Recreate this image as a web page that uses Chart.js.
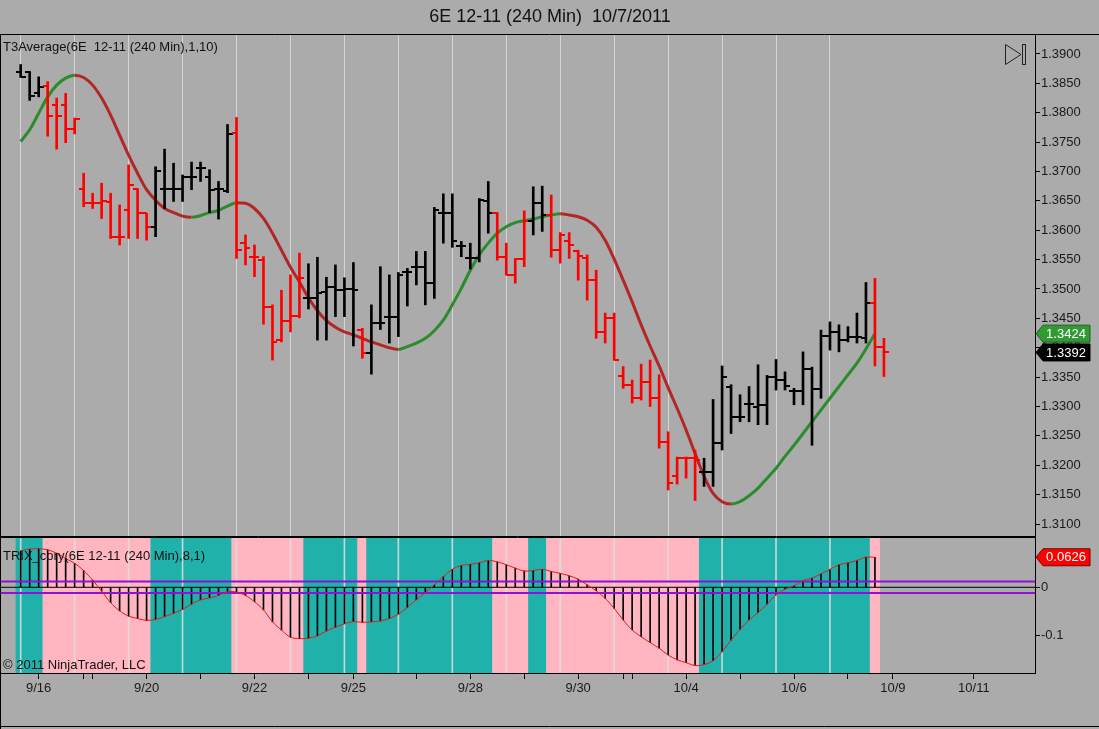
<!DOCTYPE html>
<html>
<head>
<meta charset="utf-8">
<title>6E 12-11 (240 Min) 10/7/2011</title>
<script src="https://cdn.jsdelivr.net/npm/chart.js@4.4.1/dist/chart.umd.min.js"></script>
<style>
  html, body { margin: 0; padding: 0; background: #ababab; }
  #wrap { position: relative; width: 1099px; height: 729px; overflow: hidden; }
  #priceChart { position: absolute; left: 0; top: 0; }
  #trixChart { position: absolute; left: 0; top: 537px; }
</style>
</head>
<body>
<div id="wrap">
  <canvas id="priceChart" width="1099" height="537"></canvas>
  <canvas id="trixChart" width="1099" height="192"></canvas>
</div>
<script>
// 240 min bars, index 0 = first bar on screen
const opens = [1.3870, 1.3869, 1.3834, 1.3846, 1.3813, 1.3813, 1.3772, 1.3670, 1.3646, 1.3646,
  1.3648, 1.3589, 1.3634, 1.3670, 1.3629, 1.3605, 1.3670, 1.3670, 1.3670, 1.3691,
  1.3706, 1.3691, 1.3670, 1.3667, 1.3765, 1.3578, 1.3555, 1.3549, 1.3469, 1.3413,
  1.3446, 1.3454, 1.3484, 1.3485, 1.3495, 1.3504, 1.3498, 1.3500, 1.3430, 1.3391,
  1.3442, 1.3453, 1.3453, 1.3529, 1.3538, 1.3538, 1.3510, 1.3629, 1.3629, 1.3573,
  1.3552, 1.3552, 1.3650, 1.3629, 1.3555, 1.3524, 1.3551, 1.3615, 1.3646, 1.3626,
  1.3566, 1.3581, 1.3565, 1.3553, 1.3515, 1.3426, 1.3450, 1.3352, 1.3337, 1.3314,
  1.3341, 1.3314, 1.3240, 1.3182, 1.3212, 1.3212, 1.3189, 1.3189, 1.3238, 1.3334,
  1.3282, 1.3304, 1.3300, 1.3303, 1.3351, 1.3345, 1.3327, 1.3327, 1.3363, 1.3329,
  1.3420, 1.3427, 1.3413, 1.3418, 1.3416, 1.3476, 1.3402];
const highs = [1.3882, 1.3870, 1.3861, 1.3853, 1.3825, 1.3833, 1.3791, 1.3697, 1.3663, 1.3680,
  1.3663, 1.3643, 1.3711, 1.3671, 1.3629, 1.3708, 1.3738, 1.3714, 1.3694, 1.3716,
  1.3716, 1.3703, 1.3683, 1.3780, 1.3792, 1.3592, 1.3575, 1.3555, 1.3473, 1.3498,
  1.3524, 1.3561, 1.3543, 1.3554, 1.3520, 1.3541, 1.3519, 1.3545, 1.3433, 1.3473,
  1.3538, 1.3524, 1.3528, 1.3535, 1.3564, 1.3564, 1.3639, 1.3662, 1.3662, 1.3581,
  1.3578, 1.3654, 1.3683, 1.3630, 1.3578, 1.3552, 1.3633, 1.3674, 1.3675, 1.3660,
  1.3596, 1.3596, 1.3566, 1.3558, 1.3532, 1.3459, 1.3459, 1.3368, 1.3345, 1.3372,
  1.3379, 1.3354, 1.3257, 1.3214, 1.3214, 1.3226, 1.3212, 1.3312, 1.3369, 1.3337,
  1.3320, 1.3334, 1.3371, 1.3353, 1.3380, 1.3359, 1.3331, 1.3393, 1.3367, 1.3430,
  1.3444, 1.3439, 1.3436, 1.3459, 1.3511, 1.3518, 1.3416];
const lows = [1.3860, 1.3821, 1.3827, 1.3760, 1.3738, 1.3749, 1.3764, 1.3640, 1.3637, 1.3620,
  1.3586, 1.3575, 1.3586, 1.3586, 1.3583, 1.3589, 1.3637, 1.3649, 1.3649, 1.3669,
  1.3683, 1.3630, 1.3619, 1.3664, 1.3552, 1.3541, 1.3521, 1.3440, 1.3379, 1.3410,
  1.3427, 1.3451, 1.3466, 1.3413, 1.3413, 1.3453, 1.3453, 1.3403, 1.3382, 1.3355,
  1.3431, 1.3408, 1.3419, 1.3471, 1.3507, 1.3473, 1.3484, 1.3578, 1.3571, 1.3555,
  1.3534, 1.3546, 1.3595, 1.3549, 1.3524, 1.3510, 1.3538, 1.3592, 1.3598, 1.3554,
  1.3544, 1.3552, 1.3515, 1.3481, 1.3416, 1.3408, 1.3379, 1.3331, 1.3306, 1.3311,
  1.3300, 1.3229, 1.3158, 1.3168, 1.3178, 1.3140, 1.3164, 1.3164, 1.3226, 1.3254,
  1.3274, 1.3274, 1.3269, 1.3269, 1.3328, 1.3328, 1.3303, 1.3303, 1.3234, 1.3314,
  1.3396, 1.3393, 1.3410, 1.3408, 1.3408, 1.3369, 1.3351];
const closes = [1.3861, 1.3829, 1.3844, 1.3794, 1.3794, 1.3772, 1.3790, 1.3646, 1.3646, 1.3649,
  1.3589, 1.3589, 1.3677, 1.3629, 1.3605, 1.3701, 1.3670, 1.3670, 1.3691, 1.3691,
  1.3706, 1.3669, 1.3670, 1.3764, 1.3566, 1.3570, 1.3555, 1.3469, 1.3410, 1.3446,
  1.3454, 1.3518, 1.3484, 1.3493, 1.3504, 1.3498, 1.3500, 1.3498, 1.3391, 1.3442,
  1.3442, 1.3453, 1.3524, 1.3529, 1.3538, 1.3510, 1.3634, 1.3629, 1.3581, 1.3573,
  1.3552, 1.3651, 1.3629, 1.3555, 1.3524, 1.3551, 1.3615, 1.3646, 1.3626, 1.3566,
  1.3592, 1.3575, 1.3556, 1.3515, 1.3426, 1.3450, 1.3380, 1.3337, 1.3314, 1.3341,
  1.3314, 1.3240, 1.3170, 1.3212, 1.3212, 1.3209, 1.3189, 1.3238, 1.3350, 1.3282,
  1.3282, 1.3304, 1.3303, 1.3350, 1.3345, 1.3335, 1.3327, 1.3363, 1.3329, 1.3420,
  1.3427, 1.3413, 1.3418, 1.3418, 1.3476, 1.3402, 1.3392];

// T3Average(1,10) - not yet calculated on the last bar
const t3 = [1.3751, 1.3771, 1.3799, 1.3827, 1.3847, 1.3859, 1.3864, 1.3860, 1.3847, 1.3825,
  1.3796, 1.3762, 1.3728, 1.3697, 1.3669, 1.3651, 1.3637, 1.3630, 1.3624, 1.3622,
  1.3625, 1.3630, 1.3634, 1.3641, 1.3647, 1.3646, 1.3637, 1.3620, 1.3595, 1.3566,
  1.3537, 1.3512, 1.3485, 1.3463, 1.3446, 1.3435, 1.3427, 1.3422, 1.3416, 1.3410,
  1.3405, 1.3400, 1.3397, 1.3402, 1.3408, 1.3416, 1.3429, 1.3447, 1.3473, 1.3501,
  1.3532, 1.3558, 1.3578, 1.3595, 1.3606, 1.3613, 1.3616, 1.3619, 1.3623, 1.3626,
  1.3628, 1.3626, 1.3623, 1.3617, 1.3605, 1.3583, 1.3551, 1.3515, 1.3478, 1.3439,
  1.3403, 1.3369, 1.3332, 1.3297, 1.3260, 1.3220, 1.3181, 1.3152, 1.3138, 1.3134,
  1.3138, 1.3148, 1.3161, 1.3178, 1.3195, 1.3215, 1.3234, 1.3254, 1.3274, 1.3294,
  1.3314, 1.3334, 1.3354, 1.3374, 1.3398, 1.3424];

// TRIX_cory(8,1)
const trix = [0.076, 0.0795, 0.0805, 0.078, 0.071, 0.060, 0.050, 0.035, 0.015, -0.008,
  -0.032, -0.049, -0.060, -0.065, -0.069, -0.067, -0.061, -0.054, -0.046, -0.035,
  -0.026, -0.022, -0.017, -0.009, -0.010, -0.017, -0.030, -0.047, -0.072, -0.089,
  -0.104, -0.107, -0.106, -0.101, -0.091, -0.083, -0.076, -0.0715, -0.073, -0.072,
  -0.070, -0.065, -0.056, -0.042, -0.026, -0.011, 0.005, 0.022, 0.0375, 0.0455,
  0.048, 0.051, 0.056, 0.053, 0.047, 0.040, 0.034, 0.035, 0.0375, 0.033,
  0.029, 0.024, 0.017, 0.005, -0.007, -0.023, -0.044, -0.068, -0.089, -0.103,
  -0.115, -0.127, -0.141, -0.151, -0.157, -0.163, -0.161, -0.153, -0.134, -0.110,
  -0.0875, -0.068, -0.053, -0.035, -0.016, -0.004, 0.003, 0.014, 0.019, 0.028,
  0.0375, 0.047, 0.051, 0.056, 0.0628, 0.0626];
const trixBands = [0.012, -0.012];

// axis ticks
const priceTicks = [1.39, 1.385, 1.38, 1.375, 1.37, 1.365, 1.36, 1.355, 1.35, 1.345,
  1.34, 1.335, 1.33, 1.325, 1.32, 1.315, 1.31];
const trixTicks = [0, -0.1];
const sessionBars = [0, 6, 12, 18, 24, 30, 36, 42, 48, 54, 60, 66, 72, 78, 84, 90];
const dateTickBars = [2, 7, 8, 14, 20, 26, 32, 37, 44, 50, 56, 62, 67, 68, 74, 80, 86, 92, 97, 106];
const dateTickLabels = ['9/16', '', '', '9/20', '', '9/22', '', '9/25', '', '9/28', '', '9/30',
  '', '', '10/4', '', '10/6', '', '10/9', '10/11'];

const X_MIN = -2.19, X_MAX = 112.8;
const P_MIN = 1.30779, P_MAX = 1.3934;
const T_MIN = -0.1785, T_MAX = 0.1048;

const UP = '#000000', DOWN = '#ff0000';
const T3_UP = '#2a8c2a', T3_DOWN = '#b32626';
const TEAL = '#20b2aa', PINK = '#ffb6c1';

Chart.defaults.font.family = '"Liberation Sans", Arial, sans-serif';
Chart.defaults.font.size = 13;
Chart.defaults.color = '#111';

// bar colour follows the TRIX direction
function rising(i) {
  if (i >= trix.length) return false;
  if (i === 0) return true;
  return trix[i] > trix[i - 1];
}

function tickImage(color, side) {
  const c = document.createElement('canvas');
  c.width = 10;
  c.height = 2;
  const g = c.getContext('2d');
  g.fillStyle = color;
  if (side === 'open') g.fillRect(0, 0, 5, 2);
  else g.fillRect(5, 0, 5, 2);
  return c;
}
const openUp = tickImage(UP, 'open'), openDown = tickImage(DOWN, 'open');
const closeUp = tickImage(UP, 'close'), closeDown = tickImage(DOWN, 'close');

function fixY(s) { s.width = 64; s.paddingTop = 0; s.paddingBottom = 0; }

function valueFlag(ctx, x, y, fill, stroke, text) {
  ctx.beginPath();
  ctx.moveTo(x + 1, y);
  ctx.lineTo(x + 8, y - 8.5);
  ctx.lineTo(x + 55, y - 8.5);
  ctx.lineTo(x + 55, y + 8.5);
  ctx.lineTo(x + 8, y + 8.5);
  ctx.closePath();
  ctx.fillStyle = fill;
  ctx.fill();
  ctx.strokeStyle = stroke;
  ctx.lineWidth = 1;
  ctx.stroke();
  ctx.fillStyle = '#fff';
  ctx.font = '13px "Liberation Sans", Arial';
  ctx.textAlign = 'center';
  ctx.textBaseline = 'middle';
  ctx.fillText(text, x + 31, y + 0.5);
}

const priceDecor = {
  id: 'priceDecor',
  afterDraw(chart) {
    const { ctx, chartArea: a } = chart;
    const y = chart.scales.y;
    ctx.save();
    ctx.strokeStyle = '#000';
    ctx.lineWidth = 1;
    ctx.beginPath();
    ctx.moveTo(0, a.top + 0.5); ctx.lineTo(chart.width, a.top + 0.5);
    ctx.moveTo(0.5, a.top); ctx.lineTo(0.5, chart.height);
    ctx.moveTo(0, a.bottom - 0.5); ctx.lineTo(a.right, a.bottom - 0.5);
    ctx.stroke();

    ctx.fillStyle = '#111';
    ctx.font = '13px "Liberation Sans", Arial';
    ctx.textAlign = 'left';
    ctx.textBaseline = 'middle';
    ctx.fillText('T3Average(6E  12-11 (240 Min),1,10)', 3, 47);

    // scroll-to-end button
    ctx.strokeStyle = '#222';
    ctx.beginPath();
    ctx.moveTo(1005.5, 44.5); ctx.lineTo(1021, 54.5); ctx.lineTo(1005.5, 64.5); ctx.closePath();
    ctx.stroke();
    ctx.strokeRect(1022.5, 44.5, 3, 20);

    const lastT3 = t3[t3.length - 1];
    const lastClose = closes[closes.length - 1];
    valueFlag(ctx, a.right, y.getPixelForValue(lastT3), '#339933', '#1f5f1f', lastT3.toFixed(4));
    valueFlag(ctx, a.right, y.getPixelForValue(lastClose), '#000', '#000', lastClose.toFixed(4));
    ctx.restore();
  }
};

const trixDecor = {
  id: 'trixDecor',
  afterDraw(chart) {
    const { ctx, chartArea: a } = chart;
    const y = chart.scales.y;
    ctx.save();
    ctx.strokeStyle = '#000';
    ctx.lineWidth = 1;
    ctx.beginPath();
    ctx.moveTo(0, a.top + 0.5); ctx.lineTo(a.right, a.top + 0.5);
    ctx.moveTo(0.5, 0); ctx.lineTo(0.5, chart.height);
    ctx.moveTo(0, chart.height - 2.5); ctx.lineTo(chart.width, chart.height - 2.5);
    ctx.stroke();

    ctx.fillStyle = '#111';
    ctx.font = '13px "Liberation Sans", Arial';
    ctx.textAlign = 'left';
    ctx.textBaseline = 'middle';
    ctx.fillText('TRIX_cory(6E 12-11 (240 Min),8,1)', 3, 19);
    ctx.fillText('\u00a9 2011 NinjaTrader, LLC', 3, 128);

    const lastTrix = trix[trix.length - 1];
    valueFlag(ctx, a.right, y.getPixelForValue(lastTrix), '#ff0000', '#7a0000', lastTrix.toFixed(4));
    ctx.restore();
  }
};

const idx = opens.map((v, i) => i);

new Chart(document.getElementById('priceChart'), {
  type: 'scatter',
  data: {
    datasets: [
      {
        type: 'scatter',
        label: 'Open',
        data: idx.map(i => ({ x: i, y: opens[i] })),
        pointStyle: idx.map(i => rising(i) ? openUp : openDown),
        pointRadius: 3,
        order: 1
      },
      {
        type: 'scatter',
        label: 'Close',
        data: idx.map(i => ({ x: i, y: closes[i] })),
        pointStyle: idx.map(i => rising(i) ? closeUp : closeDown),
        pointRadius: 3,
        order: 1
      },
      {
        type: 'bar',
        label: 'High-Low',
        data: idx.map(i => ({ x: i, y: [lows[i], highs[i]] })),
        backgroundColor: idx.map(i => rising(i) ? UP : DOWN),
        barThickness: 2,
        grouped: false,
        order: 2
      },
      {
        type: 'line',
        label: 'T3Average',
        data: t3.map((v, i) => ({ x: i, y: v })),
        borderColor: T3_DOWN,
        borderWidth: 3,
        pointRadius: 0,
        cubicInterpolationMode: 'monotone',
        segment: {
          borderColor: c => c.p1.parsed.y >= c.p0.parsed.y ? T3_UP : T3_DOWN
        },
        order: 3
      }
    ]
  },
  options: {
    responsive: false,
    animation: false,
    events: [],
    layout: { padding: { left: 1, right: 0, top: 0, bottom: 0 }, autoPadding: false },
    plugins: {
      legend: { display: false },
      tooltip: { enabled: false },
      title: {
        display: true,
        text: '6E 12-11 (240 Min)  10/7/2011',
        color: '#111',
        font: { size: 18, weight: 'normal' },
        padding: { top: 6, bottom: 6.4 }
      }
    },
    scales: {
      x: {
        type: 'linear',
        min: X_MIN,
        max: X_MAX,
        offset: false,
        afterBuildTicks: s => { s.ticks = sessionBars.map(v => ({ value: v })); },
        afterFit: s => { s.height = 0; s.paddingLeft = 0; s.paddingRight = 0; },
        ticks: { display: false },
        grid: { color: '#d4d4d4', lineWidth: 1, drawTicks: false, offset: false },
        border: { display: false }
      },
      y: {
        type: 'linear',
        position: 'right',
        min: P_MIN,
        max: P_MAX,
        afterBuildTicks: s => { s.ticks = priceTicks.map(v => ({ value: v })); },
        afterFit: fixY,
        ticks: { callback: v => v.toFixed(4), color: '#1a1a1a', padding: 1, font: { size: 13 } },
        grid: { drawOnChartArea: false, drawTicks: true, tickLength: 5, color: '#000' },
        border: { display: true, color: '#000' }
      }
    }
  },
  plugins: [priceDecor]
});

const tIdx = trix.map((v, i) => i);

new Chart(document.getElementById('trixChart'), {
  type: 'scatter',
  data: {
    datasets: [
      {
        type: 'line',
        label: 'TRIX',
        data: trix.map((v, i) => ({ x: i, y: v })),
        borderColor: '#e01c1c',
        borderWidth: 1,
        pointRadius: 0,
        tension: 0.3,
        order: 1
      },
      {
        type: 'line',
        label: 'Upper',
        data: [{ x: X_MIN, y: trixBands[0] }, { x: X_MAX, y: trixBands[0] }],
        borderColor: '#9010d8',
        borderWidth: 2,
        pointRadius: 0,
        order: 2
      },
      {
        type: 'line',
        label: 'Lower',
        data: [{ x: X_MIN, y: trixBands[1] }, { x: X_MAX, y: trixBands[1] }],
        borderColor: '#9010d8',
        borderWidth: 2,
        pointRadius: 0,
        order: 2
      },
      {
        type: 'line',
        label: 'Zero',
        data: [{ x: X_MIN, y: 0 }, { x: X_MAX, y: 0 }],
        borderColor: '#000',
        borderWidth: 1,
        pointRadius: 0,
        order: 2
      },
      {
        type: 'bar',
        label: 'Histogram',
        data: tIdx.map(i => ({ x: i, y: trix[i] })),
        backgroundColor: '#000',
        barThickness: 1,
        grouped: false,
        order: 3
      },
      {
        type: 'bar',
        label: 'Sessions',
        data: sessionBars.map(v => ({ x: v, y: [T_MIN, T_MAX] })),
        backgroundColor: 'rgba(222,222,222,0.85)',
        barThickness: 1,
        grouped: false,
        order: 5
      },
      {
        type: 'bar',
        label: 'Direction',
        data: tIdx.map(i => ({ x: i, y: [T_MIN, T_MAX] })),
        backgroundColor: tIdx.map(i => rising(i) ? TEAL : PINK),
        barThickness: 9.6,
        grouped: false,
        order: 9
      }
    ]
  },
  options: {
    responsive: false,
    animation: false,
    events: [],
    layout: { padding: { left: 1, right: 0, top: 0, bottom: 0 }, autoPadding: false },
    plugins: {
      legend: { display: false },
      tooltip: { enabled: false },
      title: { display: false }
    },
    scales: {
      x: {
        type: 'linear',
        min: X_MIN,
        max: X_MAX,
        offset: false,
        afterBuildTicks: s => { s.ticks = dateTickBars.map(v => ({ value: v })); },
        afterFit: s => { s.height = 56; s.paddingLeft = 0; s.paddingRight = 0; },
        ticks: {
          autoSkip: false,
          maxRotation: 0,
          minRotation: 0,
          padding: 2,
          color: '#1a1a1a',
          callback: (v, i) => dateTickLabels[i]
        },
        grid: { drawOnChartArea: false, drawTicks: true, tickLength: 6, color: '#000', offset: false },
        border: { display: true, color: '#000' }
      },
      y: {
        type: 'linear',
        position: 'right',
        min: T_MIN,
        max: T_MAX,
        afterBuildTicks: s => { s.ticks = trixTicks.map(v => ({ value: v })); },
        afterFit: fixY,
        ticks: { callback: v => String(v), color: '#1a1a1a', padding: 1 },
        grid: { drawOnChartArea: false, drawTicks: true, tickLength: 5, color: '#000' },
        border: { display: true, color: '#000' }
      }
    }
  },
  plugins: [trixDecor]
});
</script>
</body>
</html>
